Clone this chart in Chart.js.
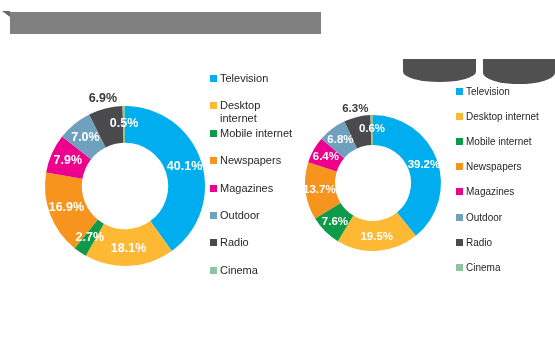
<!DOCTYPE html>
<html>
<head>
<meta charset="utf-8">
<script src="https://cdn.jsdelivr.net/npm/chart.js@4"></script>
<style>
    body { margin: 0; background: #fff; width: 555px; height: 352px; position: relative; overflow: hidden; font-family: "Liberation Sans", Arial, sans-serif; }
    .banner { position: absolute; left: 10px; top: 12px; width: 311px; height: 22px; background: #808080; }
    .fold { position: absolute; left: 2px; top: 11px; width: 0; height: 0; border-top: 6px solid #6a6a6a; border-left: 8px solid transparent; }
    .tab { position: absolute; top: 59px; height: 23px; background: #505050; border-radius: 0 0 50% 50% / 0 0 45% 45%; }
    .legend { position: absolute; color: #262626; }
    .legend .item { position: absolute; left: 0; }
    .legend .box { position: absolute; left: 0; top: 3px; width: 7px; height: 7px; }
    .legend .txt { position: absolute; left: 10px; top: 0; line-height: 13px; }
    canvas { position: absolute; }
</style>
</head>
<body>
<div class="banner"></div>
<div class="fold"></div>
<div class="tab" style="left:403px;width:73px;"></div>
<div class="tab" style="left:483px;width:72px;height:25px;"></div>

<div style="position:absolute;left:25px;top:86px;width:200px;height:200px;"><canvas id="chartLeft"></canvas></div>
<div style="position:absolute;left:285px;top:95px;width:176px;height:176px;"><canvas id="chartRight"></canvas></div>

<div class="legend" id="legendLeft" style="left:210px;top:72px;font-size:11px;"></div>
<div class="legend" id="legendRight" style="left:456px;top:85px;font-size:10px;"></div>

<script>
const categories = ['Television', 'Desktop internet', 'Mobile internet', 'Newspapers', 'Magazines', 'Outdoor', 'Radio', 'Cinema'];
const sliceColors = ['#00AEEF', '#FDB933', '#0E9A48', '#F7941D', '#EC008C', '#6FA1BF', '#4A4A4C', '#8CC79B'];
const shareLeft = [40.1, 18.1, 2.7, 16.9, 7.9, 7.0, 6.9, 0.5];
const shareRight = [39.2, 19.5, 7.6, 13.7, 6.4, 6.8, 6.3, 0.6];

// percentages on the ring; Radio goes outside because the slice is too thin
const sliceLabels = {
    id: 'sliceLabels',
    afterDatasetsDraw(chart, args, opts) {
        const ctx = chart.ctx;
        const arcs = chart.getDatasetMeta(0).data;
        const values = chart.data.datasets[0].data;
        ctx.save();
        ctx.font = 'bold ' + opts.size + 'px "Liberation Sans", Arial, sans-serif';
        ctx.textAlign = 'center';
        ctx.textBaseline = 'middle';
        arcs.forEach((arc, i) => {
            const p = arc.getProps(['x', 'y', 'startAngle', 'endAngle', 'innerRadius', 'outerRadius'], true);
            const mid = (p.startAngle + p.endAngle) / 2;
            const outside = opts.outside.includes(i);
            const r = outside ? p.outerRadius + opts.gap : (p.innerRadius + p.outerRadius) / 2 + 1;
            ctx.fillStyle = outside ? '#3a3a3a' : '#ffffff';
            ctx.fillText(values[i].toFixed(1) + '%', p.x + Math.cos(mid) * r, p.y + Math.sin(mid) * r);
        });
        ctx.restore();
    }
};

function makeDonut(id, values, cutout, gap, size) {
    return new Chart(document.getElementById(id), {
        type: 'doughnut',
        data: {
            labels: categories,
            datasets: [{
                data: values,
                backgroundColor: sliceColors,
                borderWidth: 0,
            }]
        },
        options: {
            responsive: true,
            maintainAspectRatio: false,
            animation: false,
            cutout: cutout,
            layout: { padding: 20 },
            plugins: {
                legend: { display: false },
                tooltip: { enabled: false },
                sliceLabels: { outside: [6], gap: gap, size: size }
            }
        },
        plugins: [sliceLabels]
    });
}

function renderLegend(id, step, textWidth) {
    const el = document.getElementById(id);
    el.innerHTML = categories.map((c, i) => `
        <div class="item" style="top:${i * step}px">
            <div class="box" style="background:${sliceColors[i]}"></div>
            <div class="txt" style="width:${textWidth}px">${c}</div>
        </div>
    `).join('');
}

makeDonut('chartLeft', shareLeft, '54%', 10, 12.5);
makeDonut('chartRight', shareRight, '56%', 8, 11.5);
renderLegend('legendLeft', 27.4, 76);
renderLegend('legendRight', 25.1, 100);
</script>
</body>
</html>
